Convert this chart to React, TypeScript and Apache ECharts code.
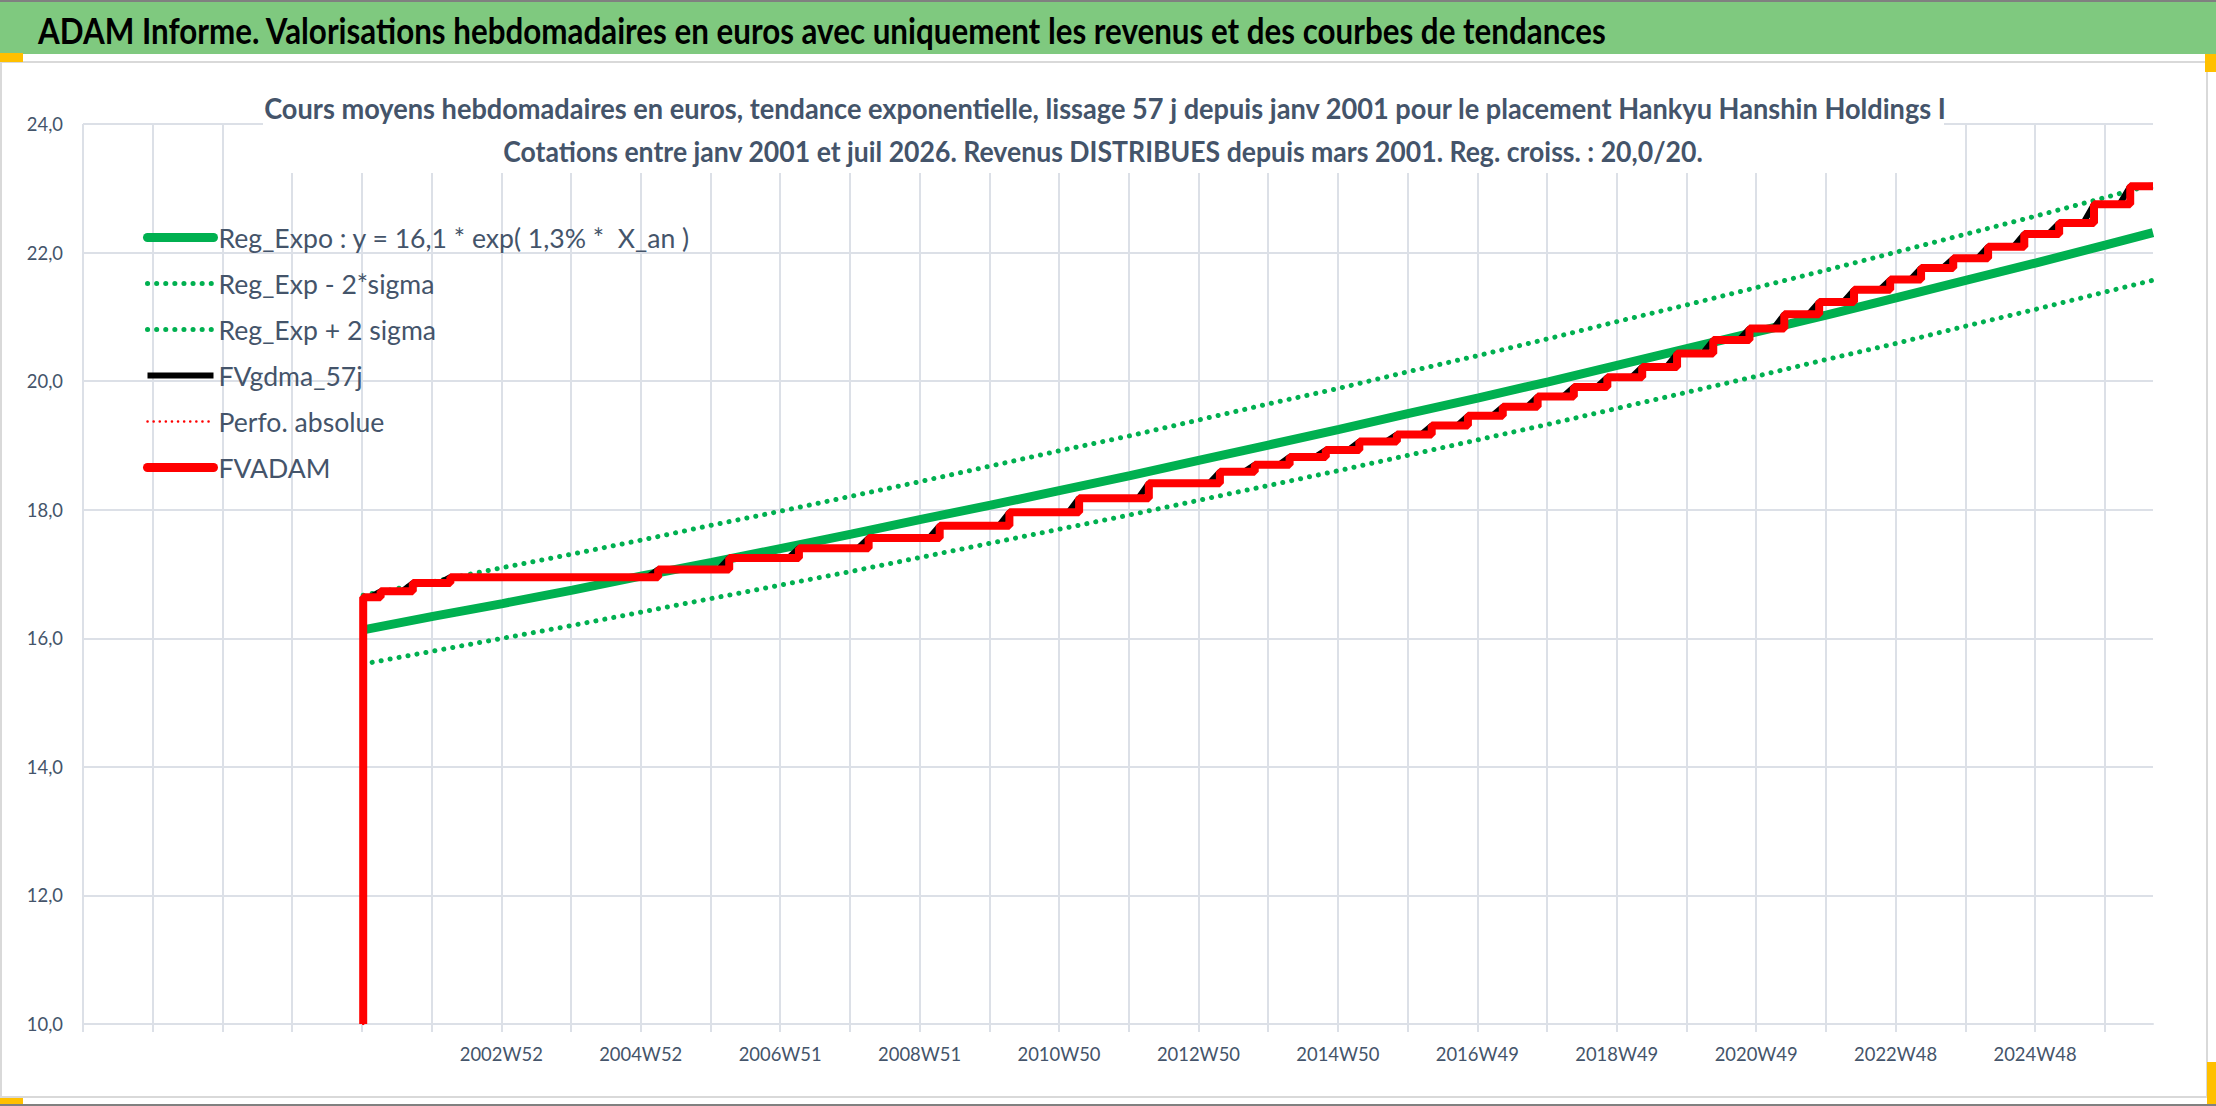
import React, { useEffect, useRef } from "react";
import * as echarts from "echarts";

// ---------- data ----------
const WEEK_COUNT = 1545; // weekly categories, 1997 -> mid 2026
const tickLabels = ["2002W52", "2004W52", "2006W51", "2008W51", "2010W50", "2012W50", "2014W50", "2016W49", "2018W49", "2020W49", "2022W48", "2024W48"];
const FIRST_LABEL_WEEK = 312;
const LABEL_STEP = 104;
const GRID_STEP = 52;

const trendWeeks = [209, 261, 313, 365, 417, 469, 521, 573, 625, 677, 729, 781, 833, 885, 937, 989, 1041, 1093, 1145, 1197, 1249, 1301, 1353, 1405, 1457, 1509, 1544];
const regExpo = [16.13, 16.34, 16.54, 16.75, 16.97, 17.18, 17.40, 17.62, 17.85, 18.07, 18.30, 18.53, 18.77, 19.01, 19.25, 19.50, 19.74, 19.99, 20.25, 20.51, 20.77, 21.03, 21.30, 21.57, 21.84, 22.12, 22.31];
const regLow = [15.60, 15.80, 16.00, 16.20, 16.41, 16.62, 16.83, 17.04, 17.26, 17.48, 17.70, 17.92, 18.15, 18.38, 18.61, 18.85, 19.09, 19.33, 19.58, 19.83, 20.08, 20.34, 20.59, 20.86, 21.12, 21.39, 21.57];
const regHigh = [16.67, 16.88, 17.10, 17.31, 17.53, 17.76, 17.98, 18.21, 18.44, 18.68, 18.92, 19.15, 19.40, 19.65, 19.89, 20.15, 20.40, 20.66, 20.93, 21.19, 21.46, 21.73, 22.01, 22.29, 22.57, 22.86, 23.06];

const fvadamWeeks = [209, 209, 222, 246, 274, 429, 482, 534, 586, 639, 691, 743, 795, 848, 874, 900, 927, 952, 980, 1006, 1033, 1059, 1085, 1112, 1137, 1163, 1189, 1216, 1243, 1269, 1295, 1321, 1348, 1371, 1395, 1421, 1448, 1474, 1500, 1527, 1544];
const fvadamValues = [10.0, 16.64, 16.73, 16.86, 16.95, 17.07, 17.25, 17.40, 17.56, 17.75, 17.96, 18.18, 18.41, 18.59, 18.70, 18.82, 18.93, 19.06, 19.17, 19.31, 19.46, 19.60, 19.76, 19.91, 20.06, 20.22, 20.43, 20.64, 20.82, 21.04, 21.23, 21.42, 21.58, 21.76, 21.91, 22.09, 22.29, 22.46, 22.75, 23.03, 23.04];
const GDMA_LEAD = 8; // weeks the 57-day smoothed curve starts rising before each step

const seriesNames = [
  "Reg_Expo : y = 16,1 * exp( 1,3% *  X_an )",
  "Reg_Exp - 2*sigma",
  "Reg_Exp + 2 sigma",
  "FVgdma_57j",
  "Perfo. absolue",
  "FVADAM",
];

const TITLE = "ADAM Informe. Valorisations hebdomadaires en euros avec uniquement les revenus et des courbes de tendances";
const SUB1 = "Cours moyens hebdomadaires en euros, tendance exponentielle, lissage 57 j depuis janv 2001 pour le placement Hankyu Hanshin Holdings I";
const SUB2 = "Cotations entre janv 2001 et juil 2026. Revenus DISTRIBUES depuis mars 2001. Reg. croiss. : 20,0/20.";

// ---------- style ----------
const FONT = "Lato, 'Liberation Sans', sans-serif";
const TEXT = "#44546A";
const GRID = "#DCE0E7";
const GREEN = "#00B050";
const RED = "#FF0000";
const BAR = "#7FC97F";
const ORANGE = "#FFC000";

function textWidth(text: string, font: string): number {
  const ctx = document.createElement("canvas").getContext("2d");
  if (!ctx) return text.length * 10;
  ctx.font = font;
  return ctx.measureText(text).width;
}

export default function App() {
  const ref = useRef<HTMLDivElement>(null);

  useEffect(() => {
    document.body.style.margin = "0";
    const el = ref.current;
    if (!el) return;
    const chart = echarts.init(el, undefined, { renderer: "svg" });

    const categories = Array.from({ length: WEEK_COUNT }, (_, i) => String(i));
    const pairs = (w: number[], v: number[]) => w.map((x, i) => [x, v[i]]);

    const gdma: number[][] = [[fvadamWeeks[1], fvadamValues[1]]];
    for (let i = 2; i < fvadamWeeks.length; i++) {
      gdma.push([Math.max(fvadamWeeks[i] - GDMA_LEAD, fvadamWeeks[i - 1]), fvadamValues[i - 1]]);
      gdma.push([fvadamWeeks[i], fvadamValues[i]]);
    }

    const titleSx = 1570 / textWidth(TITLE, `bold 36px ${FONT}`);
    const sub1Sx = 1684 / textWidth(SUB1, `bold 29px ${FONT}`);
    const sub2Sx = 1200 / textWidth(SUB2, `bold 29px ${FONT}`);
    const legendFs = Math.round((27 * 472 / textWidth(seriesNames[0], `27px ${FONT}`)) * 10) / 10;
    const axisFs = Math.round((19 * 83 / textWidth("2002W52", `19px ${FONT}`)) * 10) / 10;

    const dotted = (w: number, gap: number) => ({ type: [0.1, gap] as number[], cap: "round" as const, width: w });

    const option: any = {
      animation: false,
      backgroundColor: "#ffffff",
      grid: { left: 83, right: 63, top: 124, bottom: 82, containLabel: false },
      xAxis: {
        type: "category",
        data: categories,
        boundaryGap: false,
        axisLine: { show: true, lineStyle: { color: GRID, width: 2 } },
        axisTick: {
          show: true,
          length: 8,
          interval: (i: number) => i % GRID_STEP === 0,
          lineStyle: { color: GRID, width: 2 },
        },
        splitLine: {
          show: true,
          interval: (i: number) => i % GRID_STEP === 0,
          lineStyle: { color: GRID, width: 2 },
        },
        axisLabel: {
          interval: (i: number) => i >= FIRST_LABEL_WEEK && (i - FIRST_LABEL_WEEK) % LABEL_STEP === 0,
          formatter: (value: string) => {
            const i = Number(value);
            const k = (i - FIRST_LABEL_WEEK) / LABEL_STEP;
            return tickLabels[k] ?? "";
          },
          margin: 21,
          color: TEXT,
          fontFamily: FONT,
          fontSize: axisFs,
        },
      },
      yAxis: {
        type: "value",
        min: 10,
        max: 24,
        interval: 2,
        axisLine: { show: false },
        axisTick: { show: false },
        splitLine: { show: true, lineStyle: { color: GRID, width: 2 } },
        axisLabel: {
          formatter: (v: number) => v.toFixed(1).replace(".", ","),
          color: TEXT,
          fontFamily: FONT,
          fontSize: axisFs,
          margin: 20,
        },
      },
      legend: {
        orient: "vertical",
        left: 143,
        top: 222,
        padding: 0,
        itemGap: 15,
        itemWidth: 66,
        itemHeight: 14,
        selectedMode: false,
        itemStyle: { opacity: 0, borderWidth: 0 },
        textStyle: { fontFamily: FONT, fontSize: legendFs, color: TEXT, lineHeight: 31 },
        data: [
          { name: seriesNames[0], itemStyle: { opacity: 0 }, lineStyle: { width: 9, cap: "round" } },
          { name: seriesNames[1], itemStyle: { opacity: 0 }, lineStyle: dotted(5, 9) },
          { name: seriesNames[2], itemStyle: { opacity: 0 }, lineStyle: dotted(5, 9) },
          { name: seriesNames[3], itemStyle: { opacity: 0 }, lineStyle: { width: 6 } },
          { name: seriesNames[4], itemStyle: { opacity: 0 }, lineStyle: dotted(2.5, 6) },
          { name: seriesNames[5], itemStyle: { opacity: 0 }, lineStyle: { width: 9, cap: "round" } },
        ],
      },
      series: [
        {
          name: seriesNames[0], type: "line", symbol: "none", data: pairs(trendWeeks, regExpo),
          lineStyle: { color: GREEN, width: 9 }, itemStyle: { color: GREEN }, z: 2,
        },
        {
          name: seriesNames[1], type: "line", symbol: "none", data: pairs(trendWeeks, regLow),
          lineStyle: { color: GREEN, ...dotted(5, 9) }, itemStyle: { color: GREEN }, z: 2,
        },
        {
          name: seriesNames[2], type: "line", symbol: "none", data: pairs(trendWeeks, regHigh),
          lineStyle: { color: GREEN, ...dotted(5, 9) }, itemStyle: { color: GREEN }, z: 2,
        },
        {
          name: seriesNames[3], type: "line", symbol: "none", data: gdma,
          lineStyle: { color: "#000000", width: 6 }, itemStyle: { color: "#000000" }, z: 3,
        },
        {
          name: seriesNames[4], type: "line", symbol: "none", step: "end", data: pairs(fvadamWeeks, fvadamValues),
          lineStyle: { color: RED, ...dotted(2.5, 6) }, itemStyle: { color: RED }, z: 3,
        },
        {
          name: seriesNames[5], type: "line", symbol: "none", step: "end", data: pairs(fvadamWeeks, fvadamValues),
          lineStyle: { color: RED, width: 8 }, itemStyle: { color: RED }, z: 4,
        },
      ],
      graphic: [
        { type: "rect", z: 1, silent: true, shape: { x: 263, y: 70, width: 1681, height: 103 }, style: { fill: "#ffffff" } },
        {
          type: "text", z: 5, silent: true, x: 1105, y: 108, scaleX: sub1Sx, scaleY: 1,
          style: { text: SUB1, font: `bold 29px ${FONT}`, fill: TEXT, align: "center", verticalAlign: "middle", textAlign: "center", textVerticalAlign: "middle" },
        },
        {
          type: "text", z: 5, silent: true, x: 1103, y: 151, scaleX: sub2Sx, scaleY: 1,
          style: { text: SUB2, font: `bold 29px ${FONT}`, fill: TEXT, align: "center", verticalAlign: "middle", textAlign: "center", textVerticalAlign: "middle" },
        },
        { type: "rect", z: 10, silent: true, shape: { x: 1, y: 62, width: 2206, height: 1035 }, style: { fill: "none", stroke: "#D9D9D9", lineWidth: 2 } },
        { type: "rect", z: 10, silent: true, shape: { x: 0, y: 0, width: 2216, height: 2 }, style: { fill: "#808080" } },
        { type: "rect", z: 10, silent: true, shape: { x: 0, y: 2, width: 2216, height: 52 }, style: { fill: BAR } },
        {
          type: "text", z: 11, silent: true, x: 38, y: 30, scaleX: titleSx, scaleY: 1,
          style: { text: TITLE, font: `bold 36px ${FONT}`, fill: "#000000", align: "left", verticalAlign: "middle", textAlign: "left", textVerticalAlign: "middle" },
        },
        { type: "rect", z: 10, silent: true, shape: { x: 0, y: 1104, width: 2216, height: 2 }, style: { fill: "#808080" } },
        { type: "rect", z: 12, silent: true, shape: { x: 0, y: 53, width: 23, height: 9 }, style: { fill: ORANGE } },
        { type: "rect", z: 12, silent: true, shape: { x: 2205, y: 54, width: 11, height: 18 }, style: { fill: ORANGE } },
        { type: "rect", z: 12, silent: true, shape: { x: 0, y: 1098, width: 23, height: 6 }, style: { fill: ORANGE } },
        { type: "rect", z: 12, silent: true, shape: { x: 2207, y: 1062, width: 9, height: 42 }, style: { fill: ORANGE } },
      ],
    };

    chart.setOption(option);
    return () => chart.dispose();
  }, []);

  return (
    <div
      ref={ref}
      style={{ position: "absolute", left: 0, top: 0, width: 2216, height: 1106, background: "#ffffff", overflow: "hidden" }}
    />
  );
}
